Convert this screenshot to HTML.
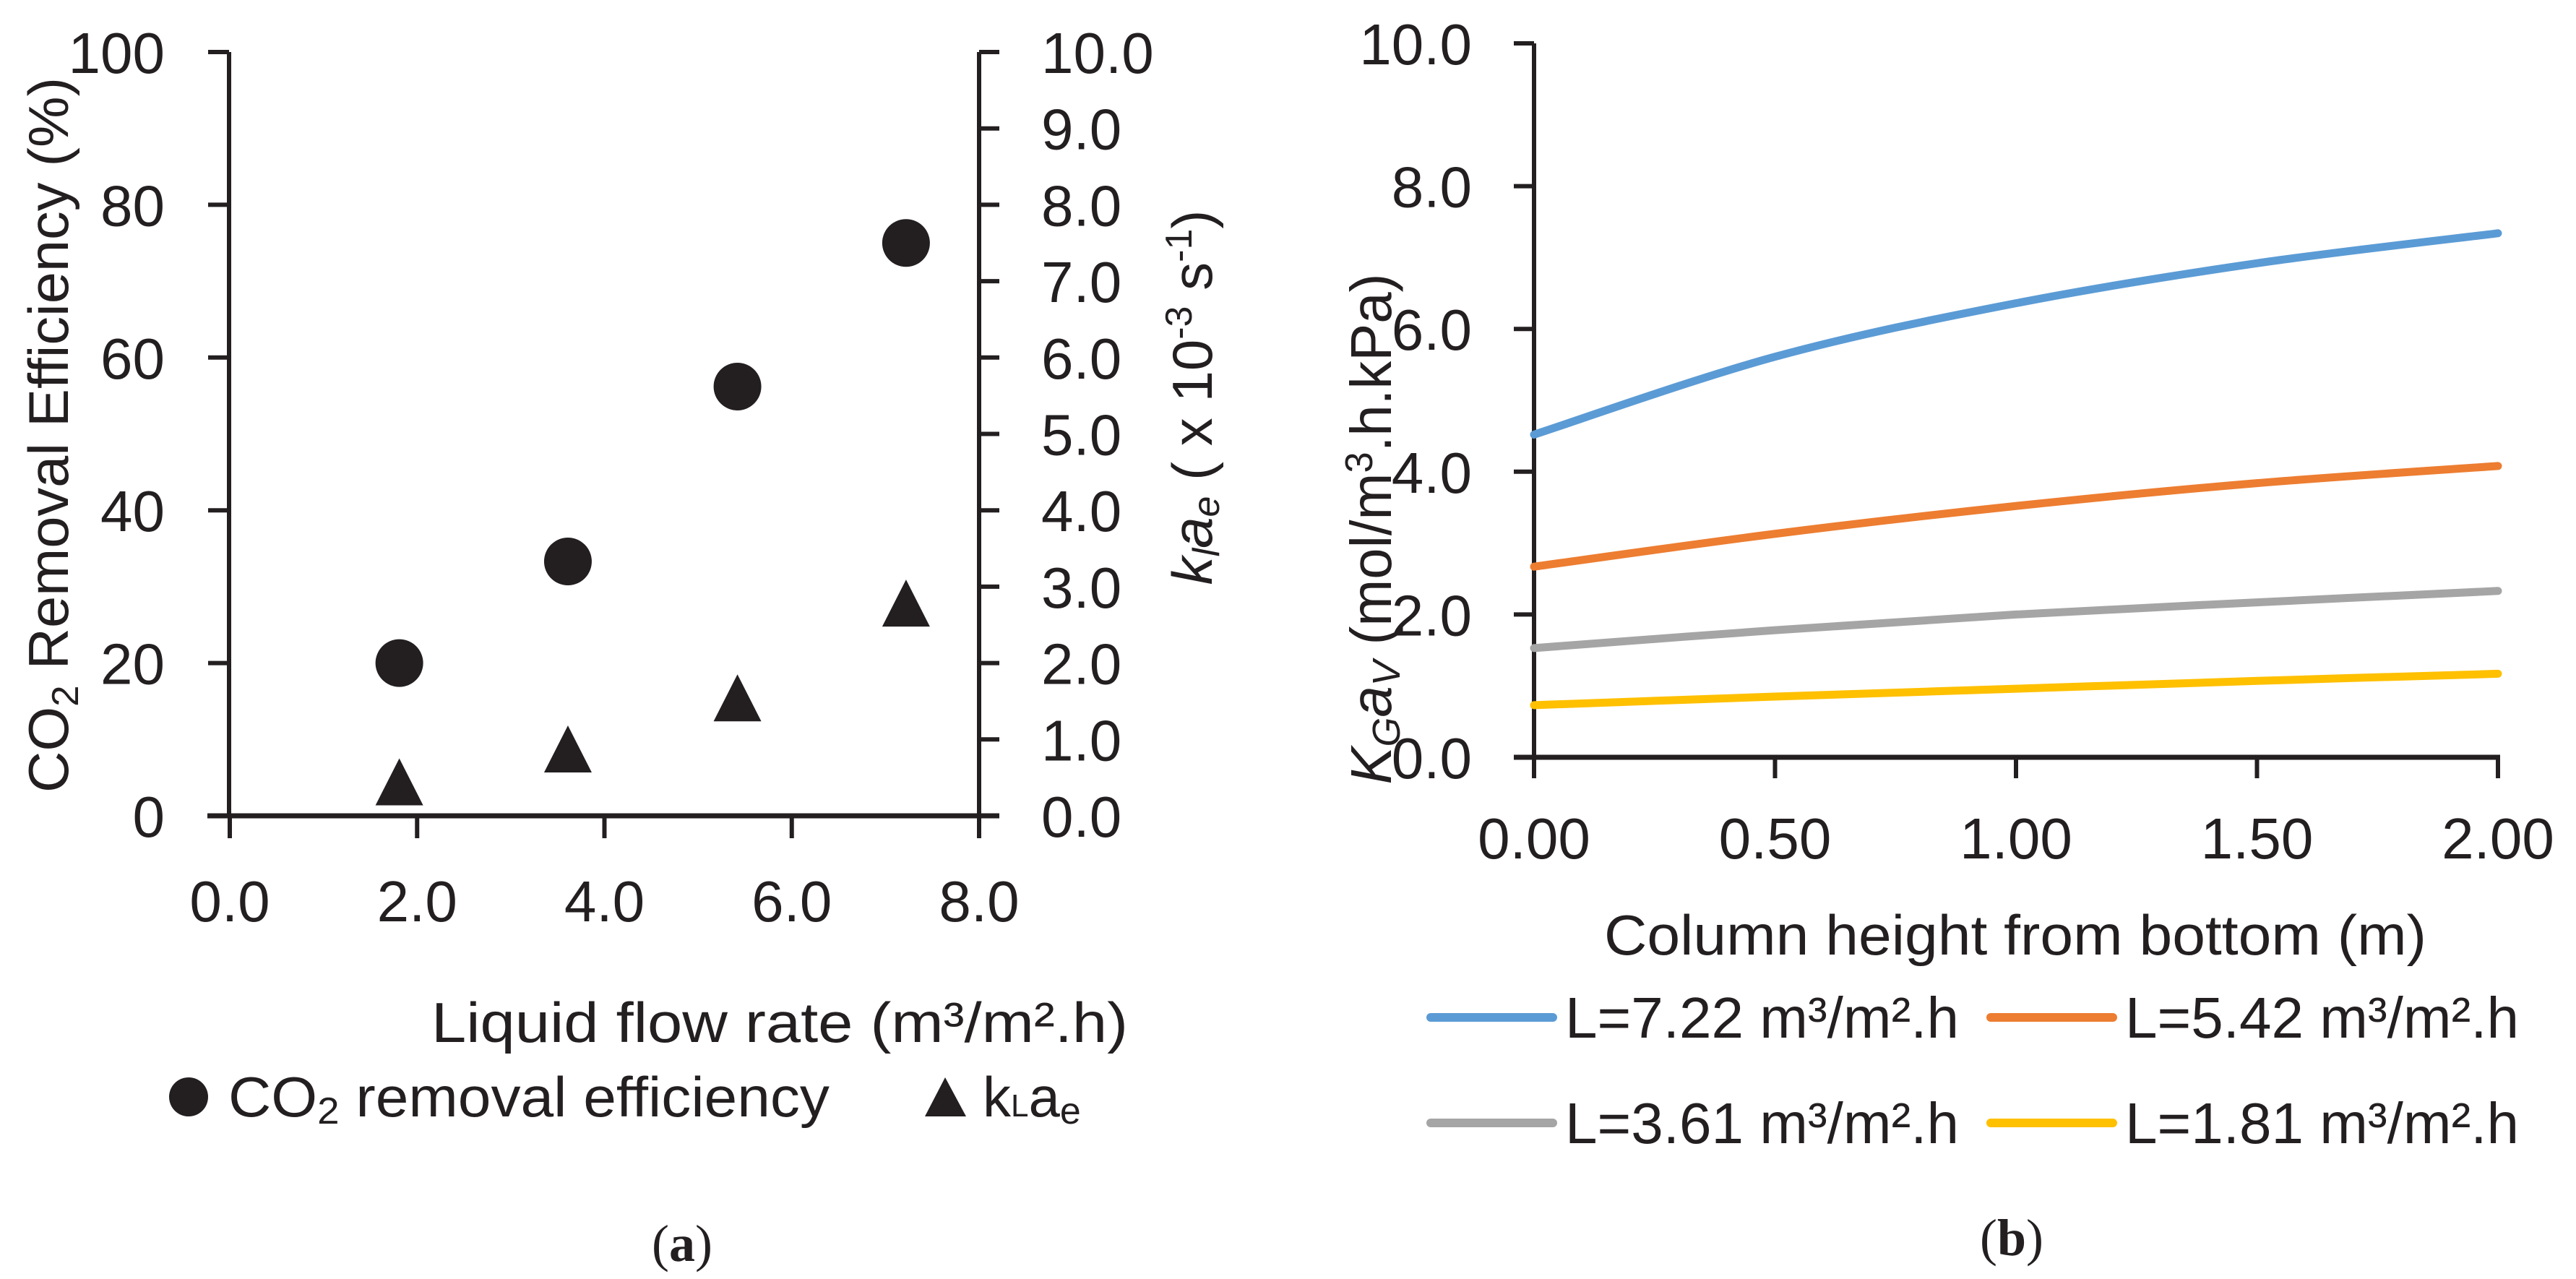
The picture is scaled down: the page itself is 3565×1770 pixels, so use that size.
<!DOCTYPE html>
<html><head><meta charset="utf-8"><style>
html,body{margin:0;padding:0;background:#fff;}
svg{display:block;font-family:"Liberation Sans",sans-serif;}
</style></head><body>
<svg id="fig" width="3565" height="1770" viewBox="0 0 3565 1770" xmlns="http://www.w3.org/2000/svg">
<g id="chartA"></g>
<g id="chartB"></g>
</svg>
<script>
// ---- Chart A data ----
const flowRates = [1.81, 3.61, 5.42, 7.22];
const removalEff = [20.0, 33.3, 56.2, 75.0];
const klae = [0.44, 0.87, 1.54, 2.78];
const aXTicks = [0, 2, 4, 6, 8];
const aXTickLabels = ["0.0","2.0","4.0","6.0","8.0"];
const aYTicks = [0, 20, 40, 60, 80, 100];
const aY2Ticks = [0,1,2,3,4,5,6,7,8,9,10];
// ---- Chart B data ----
const heights = [0, 0.5, 1.0, 1.5, 2.0];
const seriesNames = ["L=7.22", "L=5.42", "L=3.61", "L=1.81"];
const sL722 = [4.52, 5.61, 6.36, 6.92, 7.34];
const sL542 = [2.67, 3.13, 3.52, 3.84, 4.08];
const sL361 = [1.53, 1.78, 2.00, 2.17, 2.33];
const sL181 = [0.73, 0.85, 0.96, 1.07, 1.17];
const bXTicks = [0, 0.5, 1.0, 1.5, 2.0];
const bXTickLabels = ["0.00","0.50","1.00","1.50","2.00"];
const bYTicks = [0, 2, 4, 6, 8, 10];
const bYTickLabels = ["0.0","2.0","4.0","6.0","8.0","10.0"];

const NS = "http://www.w3.org/2000/svg";
function mk(parent, tag, attrs, text) {
  const e = document.createElementNS(NS, tag);
  for (const k in attrs) e.setAttribute(k, attrs[k]);
  if (text !== undefined) e.textContent = text;
  parent.appendChild(e);
  return e;
}
const INK = "#231f20";

// ===== Chart A =====
const A = document.getElementById("chartA");
const ax = v => 318 + (v / 8) * (1355 - 318);
const ay = v => 1129 - (v / 100) * (1129 - 72);
const ay2 = v => 1129 - (v / 10) * (1129 - 72);

let e;
e = mk(A, "line", {x1:317, y1:72, x2:317, y2:1129, stroke:INK, "stroke-width":6});
 
e = mk(A, "line", {x1:1355, y1:72, x2:1355, y2:1129, stroke:INK, "stroke-width":6});
 
e = mk(A, "line", {x1:287, y1:1129, x2:1383, y2:1129, stroke:INK, "stroke-width":7});
 

aYTicks.forEach(v => {
  const y = ay(v);
  e = mk(A, "line", {x1:288, y1:y, x2:317, y2:y, stroke:INK, "stroke-width":6});
   
  e = mk(A, "text", {x:228, y:y+29, "text-anchor":"end", "font-size":80, fill:INK}, String(v));
   
});
aY2Ticks.forEach(v => {
  const y = ay2(v);
  e = mk(A, "line", {x1:1355, y1:y, x2:1383, y2:y, stroke:INK, "stroke-width":6});
   
  e = mk(A, "text", {x:1441, y:y+29, "font-size":80, fill:INK}, v.toFixed(1));
   
});
aXTicks.forEach((v, i) => {
  const x = ax(v);
  e = mk(A, "line", {x1:x, y1:1129, x2:x, y2:1160, stroke:INK, "stroke-width":6});
   
  e = mk(A, "text", {x:x, y:1275, "text-anchor":"middle", "font-size":80, fill:INK}, aXTickLabels[i]);
   
});

flowRates.forEach((f, i) => {
  e = mk(A, "circle", {cx:ax(f), cy:ay(removalEff[i]), r:33, fill:INK});
   
  const cx = ax(f), cy = ay2(klae[i]);
  e = mk(A, "polygon", {points:`${cx},${cy-33} ${cx+33},${cy+32} ${cx-33},${cy+32}`, fill:INK});
   
});

// axis titles
e = mk(A, "text", {transform:"translate(94,602) rotate(-90)", "text-anchor":"middle", "font-size":78, fill:INK, textLength:990, lengthAdjust:"spacingAndGlyphs"});
 
e.innerHTML = 'CO<tspan font-size="52" dy="14">2</tspan><tspan dy="-14"> Removal Efficiency (%)</tspan>';

e = mk(A, "text", {transform:"translate(1677,550) rotate(-90)", "text-anchor":"middle", "font-size":78, fill:INK});
 
e.innerHTML = '<tspan font-style="italic">k</tspan><tspan font-style="italic" font-size="52" dy="10">l</tspan><tspan font-style="italic" dy="-10">a</tspan><tspan font-style="italic" font-size="52" dy="10">e</tspan><tspan dy="-10"> ( x 10</tspan><tspan font-size="52" dy="-28">-3</tspan><tspan dy="28"> s</tspan><tspan font-size="52" dy="-28">-1</tspan><tspan dy="28">)</tspan>';

e = mk(A, "text", {x:597, y:1442, "font-size":78, fill:INK, textLength:964, lengthAdjust:"spacingAndGlyphs"}, "Liquid flow rate (m³/m².h)");
 

// legend A
e = mk(A, "circle", {cx:261, cy:1518, r:27, fill:INK});
 
e = mk(A, "text", {x:316, y:1545, "font-size":78, fill:INK, textLength:832, lengthAdjust:"spacingAndGlyphs"});
 
e.innerHTML = 'CO<tspan font-size="52" dy="10">2</tspan><tspan dy="-10"> removal efficiency</tspan>';
e = mk(A, "polygon", {points:"1308,1491 1337,1545 1280,1545", fill:INK});
 
e = mk(A, "text", {x:1360, y:1545, "font-size":78, fill:INK});
 
e.innerHTML = 'k<tspan font-size="44">L</tspan>a<tspan font-size="52" dy="10">e</tspan>';

e = mk(A, "text", {x:944, y:1745, "text-anchor":"middle", "font-size":72, fill:INK, "font-family":"Liberation Serif, serif"});
 
e.innerHTML = '(<tspan font-weight="bold">a</tspan>)';

// ===== Chart B =====
const B = document.getElementById("chartB");
const bx = v => 2123 + (v / 2) * (3457 - 2123);
const by = v => 1048 - (v / 10) * (1048 - 60);

e = mk(B, "line", {x1:2123, y1:60, x2:2123, y2:1048, stroke:INK, "stroke-width":6});
 
e = mk(B, "line", {x1:2095, y1:1048, x2:3460, y2:1048, stroke:INK, "stroke-width":7});
 

bYTicks.forEach((v, i) => {
  const y = by(v);
  e = mk(B, "line", {x1:2095, y1:y, x2:2123, y2:y, stroke:INK, "stroke-width":6});
   
  e = mk(B, "text", {x:2037, y:y+29, "text-anchor":"end", "font-size":80, fill:INK}, bYTickLabels[i]);
   
});
bXTicks.forEach((v, i) => {
  const x = bx(v);
  e = mk(B, "line", {x1:x, y1:1048, x2:x, y2:1077, stroke:INK, "stroke-width":6});
   
  e = mk(B, "text", {x:x, y:1188, "text-anchor":"middle", "font-size":80, fill:INK}, bXTickLabels[i]);
   
});

const colors = ["#5b9bd5", "#ed7d31", "#a5a5a5", "#ffc000"];
const allSeries = [sL722, sL542, sL361, sL181];
function smoothPath(xs, ys) {
  const p = xs.map((x, i) => [bx(x), by(ys[i])]);
  let d = `M${p[0][0]},${p[0][1]}`;
  for (let i = 0; i < p.length - 1; i++) {
    const p0 = p[i-1] || p[i], p1 = p[i], p2 = p[i+1], p3 = p[i+2] || p[i+1];
    const c1 = [p1[0] + (p2[0]-p0[0])/6, p1[1] + (p2[1]-p0[1])/6];
    const c2 = [p2[0] - (p3[0]-p1[0])/6, p2[1] - (p3[1]-p1[1])/6];
    d += ` C${c1[0]},${c1[1]} ${c2[0]},${c2[1]} ${p2[0]},${p2[1]}`;
  }
  return d;
}
allSeries.forEach((s, i) => {
  e = mk(B, "path", {d:smoothPath(heights, s), fill:"none", stroke:colors[i], "stroke-width":11, "stroke-linecap":"round"});
   
});

e = mk(B, "text", {transform:"translate(1925,732) rotate(-90)", "text-anchor":"middle", "font-size":80, fill:INK, textLength:707, lengthAdjust:"spacingAndGlyphs"});
 
e.innerHTML = '<tspan font-style="italic">K</tspan><tspan font-style="italic" font-size="54" dy="12">G</tspan><tspan font-style="italic" dy="-12">a</tspan><tspan font-style="italic" font-size="54" dy="12">V</tspan><tspan dy="-12"> (mol/m</tspan><tspan font-size="54" dy="-26">3</tspan><tspan dy="26">.h.kPa)</tspan>';

e = mk(B, "text", {x:2789, y:1321, "text-anchor":"middle", "font-size":78, fill:INK, textLength:1138, lengthAdjust:"spacingAndGlyphs"}, "Column height from bottom (m)");
 

const legPos = [[1980,1408],[2755,1408],[1980,1554],[2755,1554]];
seriesNames.forEach((n, i) => {
  const [lx, ly] = legPos[i];
  e = mk(B, "line", {x1:lx, y1:ly, x2:lx+169, y2:ly, stroke:colors[i], "stroke-width":12, "stroke-linecap":"round"});
   
  e = mk(B, "text", {x:lx+186, y:ly+28, "font-size":80, fill:INK, textLength:545, lengthAdjust:"spacingAndGlyphs"}, n + " m³/m².h");
   
});

e = mk(B, "text", {x:2784, y:1737, "text-anchor":"middle", "font-size":72, fill:INK, "font-family":"Liberation Serif, serif"});
 
e.innerHTML = '(<tspan font-weight="bold">b</tspan>)';
</script>
</body></html>
